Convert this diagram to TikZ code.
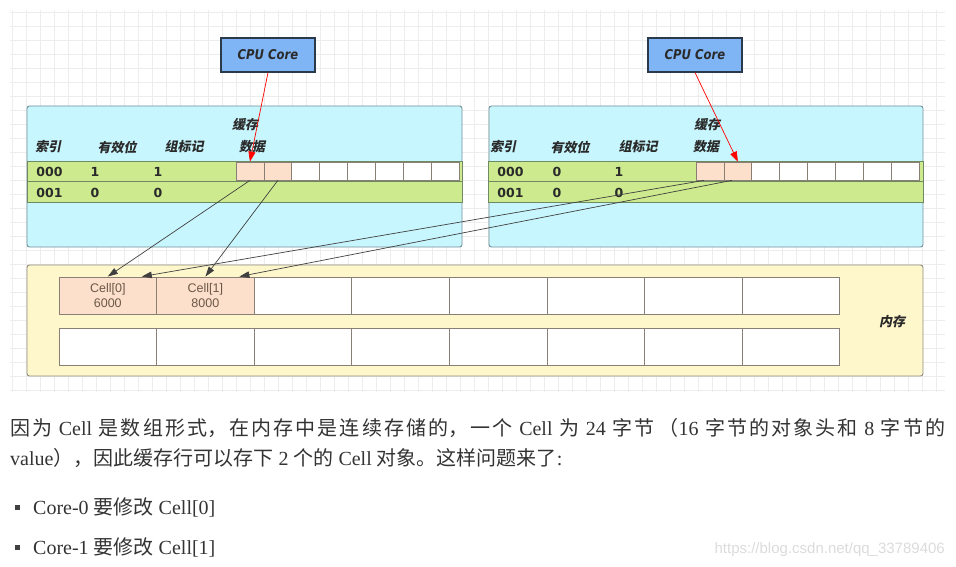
\documentclass[tikz,border=0pt]{standalone}
\usepackage{fontspec}
\setmainfont{Liberation Serif}
\newfontfamily\cjk{Noto Sans CJK SC}
\newfontfamily\cjkbi[FakeSlant=0.2]{Noto Sans CJK SC}
\newfontfamily\dvs{DejaVu Sans}
\newfontfamily\dvsc[FakeStretch=0.86]{DejaVu Sans}
\newfontfamily\lsans{Liberation Sans}
\usetikzlibrary{arrows.meta}
\newcommand\zh[1]{{\cjk #1}}
\definecolor{gridc}{HTML}{EDEDED}
\definecolor{cpuFill}{HTML}{7FB5F5}
\definecolor{cpuBorder}{HTML}{2B3A4A}
\definecolor{cacheFill}{HTML}{C8F6FE}
\definecolor{cacheBorder}{HTML}{72909A}
\definecolor{rowFill}{HTML}{CDEB8E}
\definecolor{rowBorder}{HTML}{6F8A62}
\definecolor{peach}{HTML}{FDE0CB}
\definecolor{cellBorder}{HTML}{8A7F74}
\definecolor{memFill}{HTML}{FFF7CC}
\definecolor{memBorder}{HTML}{8E8C7C}
\definecolor{labelText}{HTML}{2A2A2A}
\definecolor{cellText}{HTML}{6B5848}
\definecolor{bodyText}{HTML}{333333}
\definecolor{arrowc}{HTML}{404040}
\begin{document}
\begin{tikzpicture}[x=1pt,y=-1pt,
  cpu/.style={draw=cpuBorder, fill=cpuFill, line width=1.2pt, minimum width=94pt, minimum height=34pt, inner sep=0pt, font=\dvsc\bfseries\itshape\fontsize{13.5}{15}\selectfont, text=labelText},
  cachebox/.style={draw=cacheBorder, fill=cacheFill, rounded corners=2.5pt, line width=0.9pt, inner sep=0pt},
  membox/.style={draw=memBorder, fill=memFill, rounded corners=2.5pt, line width=0.9pt, inner sep=0pt},
  rowbox/.style={draw=rowBorder, fill=rowFill, line width=0.8pt, inner sep=0pt, minimum width=435pt},
  dcell/.style={draw=cellBorder, fill=white, line width=0.8pt, minimum width=27.9pt, minimum height=18pt, inner sep=0pt},
  pcell/.style={dcell, fill=peach},
  mcell/.style={draw=cellBorder, fill=white, line width=0.9pt, minimum width=97.6pt, minimum height=37pt, inner sep=0pt},
  pmcell/.style={mcell, fill=peach, align=center, font=\lsans\fontsize{12.5}{15}\selectfont, text=cellText},
  hdr/.style={font=\cjkbi\bfseries\fontsize{13}{15}\selectfont, text=labelText, inner sep=0pt},
  num/.style={font=\dvs\bfseries\fontsize{12.5}{14}\selectfont, text=labelText, inner sep=0pt},
  redarr/.style={draw=red, line width=0.7pt, -{Triangle[length=10pt,width=7pt]}},
  blkarr/.style={draw=arrowc, line width=0.7pt, -{Triangle[length=10pt,width=6.5pt]}},
  body/.style={anchor=base west, inner sep=0pt, font=\fontsize{20}{24}\selectfont, text=bodyText},
  bullet/.style={fill=black!75, minimum size=5pt, inner sep=0pt}
]
\useasboundingbox (0,0) rectangle (956,567);
% grid
\foreach \i in {0,...,66} \draw[gridc, line width=0.6pt] ({12+14*\i},10) -- ({12+14*\i},392);
\foreach \j in {0,...,27} \draw[gridc, line width=0.6pt] (10,{12+14*\j}) -- (945,{12+14*\j});

% CPU cores
\node[cpu] (cpu1) at (268,55) {CPU Core};
\node[cpu] (cpu2) at (695,55) {CPU Core};

% caches
\node[cachebox, minimum width=435pt, minimum height=141pt] (cache1) at (244.5,176.5) {};
\node[cachebox, minimum width=434pt, minimum height=141pt] (cache2) at (706,176.5) {};

\node[rowbox, minimum height=20pt] (rL1) at (244.5,171) {};
\node[rowbox, minimum height=21pt] (rL2) at (244.5,191.5) {};
\node[rowbox, minimum height=20pt] (rR1) at (706,171) {};
\node[rowbox, minimum height=21pt] (rR2) at (706,191.5) {};

% headers left
\node[hdr] (cL) at (245,125) {缓存};
\node[hdr] (hL1) at (48,147) {索引};
\node[hdr] (hL2) at (117,147) {有效位};
\node[hdr] (hL3) at (184,147) {组标记};
\node[hdr] (hL4) at (252,147) {数据};
% headers right
\node[hdr] (cR) at (707,125) {缓存};
\node[hdr] (hR1) at (503,147) {索引};
\node[hdr] (hR2) at (570,147) {有效位};
\node[hdr] (hR3) at (638,147) {组标记};
\node[hdr] (hR4) at (706,147) {数据};

% row values left
\node[num] (vL11) at (49.5,172) {000};
\node[num] (vL12) at (95,172) {1};
\node[num] (vL13) at (158,172) {1};
\node[num] (vL21) at (49.5,193) {001};
\node[num] (vL22) at (95,193) {0};
\node[num] (vL23) at (158,193) {0};
% row values right
\node[num] (vR11) at (510.5,172) {000};
\node[num] (vR12) at (557,172) {0};
\node[num] (vR13) at (619,172) {1};
\node[num] (vR21) at (510.5,193) {001};
\node[num] (vR22) at (557,193) {0};
\node[num] (vR23) at (619,193) {0};

% data cells
\node[pcell] (dL1) at ({236+27.9*0.5},171) {};
\node[pcell] (dL2) at ({236+27.9*1.5},171) {};
\foreach \i in {3,...,8} \node[dcell] (dL\i) at ({236+27.9*(\i-0.5)},171) {};
\node[pcell] (dR1) at ({696+27.9*0.5},171) {};
\node[pcell] (dR2) at ({696+27.9*1.5},171) {};
\foreach \i in {3,...,8} \node[dcell] (dR\i) at ({696+27.9*(\i-0.5)},171) {};

% memory
\node[membox, minimum width=896pt, minimum height=111pt] (mem) at (475,320.5) {};
\node[pmcell] (m1) at ({59+97.6*0.5},295.5) {Cell[0]\\6000};
\node[pmcell] (m2) at ({59+97.6*1.5},295.5) {Cell[1]\\8000};
\foreach \i in {3,...,8} \node[mcell] (m1\i) at ({59+97.6*(\i-0.5)},295.5) {};
\foreach \i in {1,...,8} \node[mcell] (m2\i) at ({59+97.6*(\i-0.5)},346.5) {};
\node[hdr] (memlabel) at (892,322) {内存};

% arrows
\draw[redarr] (cpu1.south) -- (dL1.north);
\draw[redarr] (cpu2.south) -- (dR2.north);
\draw[blkarr] (dL1.south) -- (m1.north);
\draw[blkarr] (dL2.south) -- (m2.north);
\draw[blkarr] ([xshift=-6pt]dR1.south) -- ([xshift=34pt]m1.north);
\draw[blkarr] ([xshift=-6pt]dR2.south) -- ([xshift=34pt]m2.north);

% body text
\node[body] (t1) at (10,435) {\parbox[t]{935pt}{\noindent\parfillskip=0pt\relax
  \XeTeXlinebreaklocale "zh"\XeTeXlinebreakskip=0pt plus 2pt\relax
  \spaceskip=5pt plus 1.5pt\relax
  \zh{因为} Cell \zh{是数组形式，在内存中是连续存储的，一个} Cell \zh{为} 24 \zh{字节}\hskip 3pt plus 1pt\zh{（}16 \zh{字节的对象头和} 8 \zh{字节的}}};
\node[body] (t2) at (10,465) {value\zh{），因此缓存行可以存下} 2 \zh{个的} Cell \zh{对象。这样问题来了}:};
\node[bullet] (b1) at (17,507) {};
\node[body] (t3) at (33,514) {Core-0 \zh{要修改} Cell[0]};
\node[bullet] (b2) at (17,547) {};
\node[body] (t4) at (33,554) {Core-1 \zh{要修改} Cell[1]};
\node[anchor=base east, inner sep=0pt, font=\lsans\fontsize{15}{18}\selectfont, text=black!14] (wm) at (945,553) {https://blog.csdn.net/qq\_33789406};
\end{tikzpicture}
\end{document}
